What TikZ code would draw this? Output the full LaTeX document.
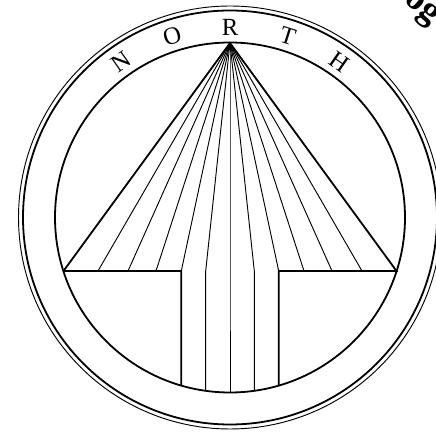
\documentclass[tikz,border=0pt]{standalone}
\usepackage{fontspec}
\setmainfont{Liberation Serif}
\tikzset{
  ringline/.style={line width=1.35pt},
  thinring/.style={line width=.7pt},
  fanline/.style={line width=.7pt},
  edgeline/.style={line width=1.35pt},
  ringletter/.style={font=\fontsize{18.5}{20}\selectfont,inner sep=0pt},
}
\begin{document}
\begin{tikzpicture}[x=.75pt,y=-.75pt]
\useasboundingbox(0,0)rectangle(436,434);
\clip(0,0)rectangle(436,434);
\coordinate(O)at(230,217.5);\coordinate(A)at(230,43);
\coordinate(L)at(63.5,271);\coordinate(R)at(396.5,271);
\coordinate(P)at(181.3,271);\coordinate(Q)at(278.7,271);
\coordinate(S)at(181.3,385);\coordinate(T)at(278.7,385);
\draw[thinring](O)circle[radius=211.5];
\draw[ringline](O)circle[radius=207];
\draw[ringline](O)circle[radius=175];
% arrow head and stem
\draw[edgeline](L)--(A)--(R)--(Q)--(T) (L)--(P)--(S);
\foreach\x in{98,128,156,304,332,362}{\draw[fanline](A)--(\x,271);}
\foreach\x/\y in{205.7/391,230/392.5,254.3/391}{\draw[fanline](A)--(\x,271)--(\x,\y);}
\foreach\x in{181.3,278.7}{\draw[fanline](A)--(\x,271);}
\foreach\c/\a in{N/125,O/107.7,R/90,T/72.3,H/55}{\node[ringletter,rotate=\a-90]at([shift={(-\a:190)}]O){\c};}
\node[rotate=-40,font=\bfseries\fontsize{27}{29}\selectfont,inner sep=0pt]at(421,9){og};
\end{tikzpicture}
\end{document}
